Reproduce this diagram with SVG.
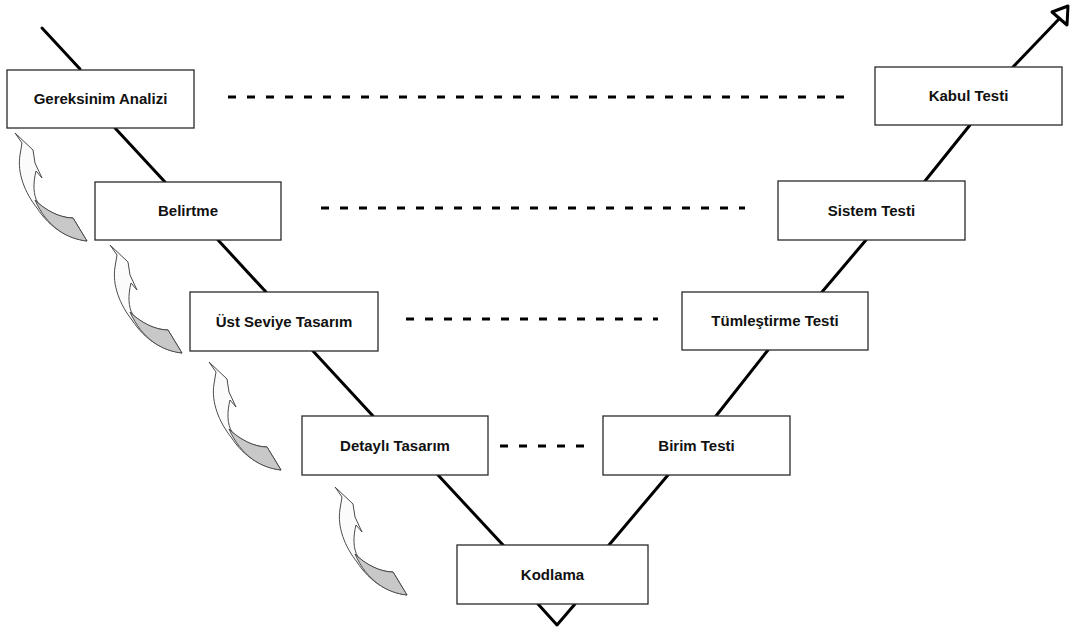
<svg xmlns="http://www.w3.org/2000/svg" xmlns:xlink="http://www.w3.org/1999/xlink" width="1075" height="630" viewBox="0 0 1075 630">
  <style>
    .box { fill: #ffffff; stroke: #2a2a2a; stroke-width: 1.3; }
    .lbl { font-family: "Liberation Sans", Arial, sans-serif; font-size: 15px; font-weight: bold; fill: #111; text-anchor: middle; }
    .vline { stroke: #000; stroke-width: 3; fill: none; stroke-linecap: round; stroke-linejoin: round; }
    .dash { stroke: #000; stroke-width: 3.2; stroke-dasharray: 8 11; fill: none; }
    .rib { fill: #fbfbfb; stroke: #4a4a4a; stroke-width: 1; stroke-linejoin: round; }
    .ribshade { fill: #c8c8c8; stroke: #4a4a4a; stroke-width: 1; stroke-linejoin: round; }
  </style>
  <defs>
    <!-- curved return arrow, tip at origin -->
    <g id="backArrow">
      <path class="rib" d="M0,0 L18,17 L20,30 L27,45 L21,38 C18,50 18,62 23,70 C32,78 45,85 58,85 L72,108 C52,105 35,95 22,75 C10,60 2,40 5,22 L7,10 Z"/>
      <path class="ribshade" d="M20,67 C30,77 45,85 58,85 L72,108 C52,106 32,94 20,67 Z"/>
    </g>
  </defs>

  <!-- connectors: V line, level links, feedback arrows -->
  <g id="connectors">
    <line class="vline" x1="42" y1="28" x2="80" y2="69"/>
    <line class="vline" x1="115" y1="128" x2="165" y2="182"/>
    <line class="vline" x1="218" y1="240" x2="266" y2="292"/>
    <line class="vline" x1="313" y1="351" x2="373" y2="416"/>
    <line class="vline" x1="438" y1="475" x2="503" y2="545"/>
    <polyline class="vline" points="538,604 557,625 575,604"/>
    <line class="vline" x1="609" y1="545" x2="668" y2="475"/>
    <line class="vline" x1="716" y1="416" x2="768" y2="350"/>
    <line class="vline" x1="822" y1="292" x2="866" y2="240"/>
    <line class="vline" x1="925" y1="181" x2="970" y2="125"/>
    <line class="vline" x1="1013" y1="67" x2="1059" y2="19"/>
    <polygon class="vline" style="fill:#fff" points="1052,12 1068,6 1067,25"/>

    <line class="dash" x1="228" y1="97" x2="850" y2="97"/>
    <line class="dash" x1="321" y1="208" x2="745" y2="208"/>
    <line class="dash" x1="406" y1="319" x2="658" y2="319"/>
    <line class="dash" x1="500" y1="446" x2="588" y2="446"/>

    <use xlink:href="#backArrow" x="15" y="133"/>
    <use xlink:href="#backArrow" x="110" y="245"/>
    <use xlink:href="#backArrow" x="209" y="362"/>
    <use xlink:href="#backArrow" x="335" y="487"/>
  </g>

  <g id="gereksinim">
    <rect class="box" x="7" y="70" width="187" height="58"/>
    <text class="lbl" x="100.5" y="104">Gereksinim Analizi</text>
  </g>
  <g id="belirtme">
    <rect class="box" x="95" y="182" width="186" height="58"/>
    <text class="lbl" x="188" y="216">Belirtme</text>
  </g>
  <g id="ust-seviye">
    <rect class="box" x="190" y="292" width="188" height="59"/>
    <text class="lbl" x="284" y="327">Üst Seviye Tasarım</text>
  </g>
  <g id="detayli">
    <rect class="box" x="302" y="416" width="186" height="59"/>
    <text class="lbl" x="395" y="451">Detaylı Tasarım</text>
  </g>
  <g id="kodlama">
    <rect class="box" x="457" y="545" width="191" height="59"/>
    <text class="lbl" x="552.5" y="580">Kodlama</text>
  </g>
  <g id="birim">
    <rect class="box" x="603" y="416" width="187" height="59"/>
    <text class="lbl" x="696.5" y="451">Birim Testi</text>
  </g>
  <g id="tumlestirme">
    <rect class="box" x="682" y="292" width="186" height="58"/>
    <text class="lbl" x="775" y="326">Tümleştirme Testi</text>
  </g>
  <g id="sistem">
    <rect class="box" x="778" y="181" width="187" height="59"/>
    <text class="lbl" x="871.5" y="216">Sistem Testi</text>
  </g>
  <g id="kabul">
    <rect class="box" x="875" y="67" width="187" height="58"/>
    <text class="lbl" x="968.5" y="101">Kabul Testi</text>
  </g>
</svg>
